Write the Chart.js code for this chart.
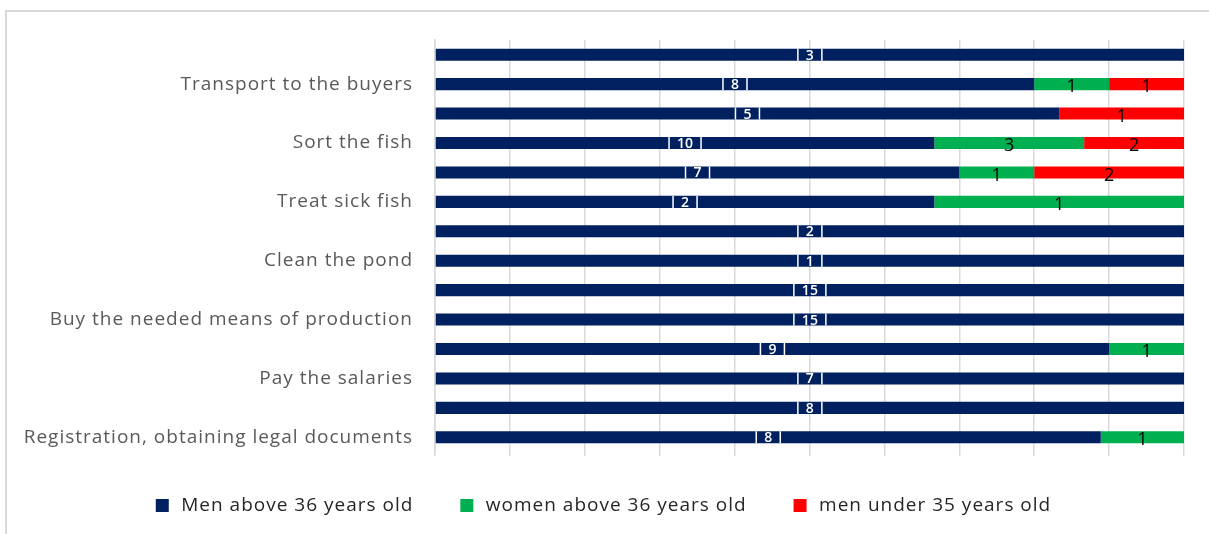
<!DOCTYPE html>
<html>
<head>
<meta charset="utf-8">
<script src="https://cdn.jsdelivr.net/npm/chart.js@4.4.1/dist/chart.umd.min.js"></script>
<style>
  body { margin: 0; background: #fff; }
  #frame { position: absolute; left: 5px; top: 10px; width: 1300px; height: 700px;
           border-left: 2px solid #d9d9d9; border-top: 2px solid #d9d9d9; }
  #wrap { position: relative; width: 1209px; height: 534px; }
</style>
</head>
<body>
<div id="frame"></div>
<div id="wrap"><canvas id="chart"></canvas></div>
<script>
// rows from top to bottom, only every second row carries a visible name
let categories = ['', 'Transport to the buyers', '', 'Sort the fish', '', 'Treat sick fish', '',
  'Clean the pond', '', 'Buy the needed means of production', '', 'Pay the salaries', '',
  'Registration, obtaining legal documents']

// counts per group
let menAbove36 = [3, 8, 5, 10, 7, 2, 2, 1, 15, 15, 9, 7, 8, 8]
let womenAbove36 = [0, 1, 0, 3, 1, 1, 0, 0, 0, 0, 1, 0, 0, 1]
let menUnder35 = [0, 1, 1, 2, 2, 0, 0, 0, 0, 0, 0, 0, 0, 0]

let seriesNames = ['Men above 36 years old', 'women above 36 years old', 'men under 35 years old']
let seriesColors = ['#002060', '#00b050', '#ff0000']
let counts = [menAbove36, womenAbove36, menUnder35]

// 100% stacked: turn counts into shares of each row
let totals = menAbove36.map((v, i) => v + womenAbove36[i] + menUnder35[i])
let share = arr => arr.map((v, i) => v / totals[i])

// the original text is set a bit loose, so widen the letters a little
let spacing = {
  id: 'spacing',
  beforeUpdate(chart) { chart.ctx.letterSpacing = '1px' },
  beforeDraw(chart) { chart.ctx.letterSpacing = '1px' }
}

// draws the value labels in the middle of each segment
let valueLabels = {
  id: 'valueLabels',
  afterDatasetsDraw(chart) {
    let ctx = chart.ctx
    ctx.save()
    ctx.letterSpacing = '0px'
    chart.data.datasets.forEach((ds, i) => {
      let meta = chart.getDatasetMeta(i)
      meta.data.forEach((bar, j) => {
        let v = counts[i][j]
        if (!v) return
        let cx = (bar.x + bar.base) / 2
        let cy = bar.y
        let txt = String(v)
        if (i === 0) {
          ctx.font = '600 14px "Open Sans"'
          let w = ctx.measureText(txt).width + 16
          ctx.strokeStyle = '#ffffff'
          ctx.lineWidth = 1.5
          ctx.beginPath()
          ctx.moveTo(cx - w / 2, cy - bar.height / 2)
          ctx.lineTo(cx - w / 2, cy + bar.height / 2)
          ctx.moveTo(cx + w / 2, cy - bar.height / 2)
          ctx.lineTo(cx + w / 2, cy + bar.height / 2)
          ctx.stroke()
          ctx.fillStyle = '#ffffff'
          ctx.textAlign = 'center'
          ctx.textBaseline = 'middle'
          ctx.fillText(txt, cx, cy + 1)
        } else {
          ctx.font = '18px "Open Sans"'
          ctx.fillStyle = '#000000'
          ctx.textAlign = 'center'
          ctx.textBaseline = 'middle'
          ctx.fillText(txt, cx, cy + 3)
        }
      })
    })
    ctx.restore()
  }
}

let ctx = document.getElementById('chart').getContext('2d')

let chart = new Chart(ctx, {
  type: 'bar',
  data: {
    labels: categories,
    datasets: [
      { label: seriesNames[0], data: share(menAbove36), backgroundColor: seriesColors[0] },
      { label: seriesNames[1], data: share(womenAbove36), backgroundColor: seriesColors[1] },
      { label: seriesNames[2], data: share(menUnder35), backgroundColor: seriesColors[2] }
    ]
  },
  options: {
    indexAxis: 'y',
    responsive: true,
    maintainAspectRatio: false,
    animation: false,
    datasets: { bar: { barPercentage: 0.41, categoryPercentage: 1 } },
    layout: { padding: { top: 40, right: 25, bottom: 9, left: 20 } },
    scales: {
      x: {
        stacked: true,
        min: 0,
        max: 1,
        ticks: { display: false, stepSize: 0.1 },
        grid: { color: '#d9d9d9', lineWidth: 1.5, tickLength: 4 },
        border: { display: false },
        afterFit(scale) { scale.height = 0 }
      },
      y: {
        stacked: true,
        grid: { display: false, drawTicks: false },
        border: { display: true, color: '#d9d9d9', width: 1.5 },
        ticks: { autoSkip: false, padding: 22, color: '#595959', font: { family: 'Open Sans', size: 19 } },
        afterFit(scale) { scale.width = 415 }
      }
    },
    plugins: {
      tooltip: { enabled: false },
      legend: {
        position: 'bottom',
        labels: {
          usePointStyle: true,
          pointStyle: 'rect',
          boxWidth: 19,
          boxHeight: 13,
          padding: 44,
          color: '#262626',
          font: { family: 'Open Sans', size: 19 }
        }
      }
    }
  },
  plugins: [spacing, valueLabels]
})
</script>
</body>
</html>
